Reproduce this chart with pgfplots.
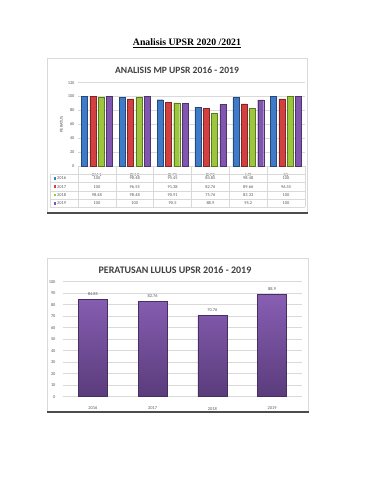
\documentclass[border=0pt]{standalone}
\usepackage{fontspec}
\setmainfont{Carlito}
\newfontfamily\seriffont{Liberation Serif}
\usepackage{pgfplots}
\usepackage{pgfplotstable}
\pgfplotsset{compat=1.18}
\definecolor{cA}{HTML}{3F7BC8}
\definecolor{cB}{HTML}{D2413F}
\definecolor{cC}{HTML}{9CC63B}
\definecolor{cD}{HTML}{8156B0}
\definecolor{gridc}{HTML}{D9D9D9}
\definecolor{txt}{HTML}{595959}
\definecolor{ttl}{HTML}{404040}

\pgfplotstableread{
x a b c d
0 100 100 98.48 100
1 98.48 96.55 98.48 100
2 95.45 91.38 90.91 90.5
3 84.85 82.76 75.76 88.9
4 98.48 89.66 83.33 95.2
5 100 96.55 100 100
}\mpdata

\pgfplotstableread{
x v
0 84.85
1 82.76
2 70.76
3 88.9
}\lulus

\begin{document}
\begin{tikzpicture}[x=1pt,y=1pt]
\fill[white] (0,0) rectangle (370,480);
\node[font=\seriffont\bfseries\fontsize{9.8}{11}\selectfont] at (187,437) {\underline{Analisis UPSR 2020 /2021}};

% ---------- chart 1 ----------
\draw[gridc, line width=0.5pt] (47,268) rectangle (307,422);
\draw[black!70, line width=1.3pt] (47,267) -- (308,267);
\node[font=\bfseries\fontsize{9.6}{11}\selectfont, text=ttl] at (177,410) {ANALISIS MP UPSR 2016 - 2019};

\begin{axis}[at={(78pt,314pt)}, anchor=south west, scale only axis,
  width=227pt, height=83.3pt,
  ymin=0, ymax=120, ytick={0,20,...,120},
  xmin=-0.5, xmax=5.5, xtick={0,...,5},
  xticklabels={BM 1,BM 2,BI P1,BI P2,MT,SN},
  axis line style={draw=none}, tick style={draw=none},
  ymajorgrids, grid style={gridc, line width=0.5pt},
  ybar=2.3pt, bar width=6pt,
  tick label style={font=\fontsize{4.4}{5}\selectfont, text=txt},
  xticklabel style={yshift=0.5pt},
  /pgf/number format/assume math mode=true,
  ylabel={PERATUS}, ylabel style={font=\fontsize{4.4}{5}\selectfont, text=txt, yshift=-2pt},
  clip=false]
\addplot[fill=cA, draw=cA!60!black, line width=0.3pt] table[x=x, y=a] {\mpdata};
\addplot[fill=cB, draw=cB!60!black, line width=0.3pt] table[x=x, y=b] {\mpdata};
\addplot[fill=cC, draw=cC!60!black, line width=0.3pt] table[x=x, y=c] {\mpdata};
\addplot[fill=cD, draw=cD!60!black, line width=0.3pt] table[x=x, y=d] {\mpdata};
\end{axis}

% data table
\foreach \yy in {306,297.5,289,281,273} \draw[gridc, line width=0.5pt] (50,\yy) -- (305,\yy);
\foreach \xx in {78,115.83,153.67,191.5,229.33,267.17,305} \draw[gridc, line width=0.5pt] (\xx,314) -- (\xx,273);
\draw[gridc, line width=0.5pt] (50,306) -- (50,273);
\foreach \c/\yy/\col/\yr in {a/301.7/cA/2016,b/293.3/cB/2017,c/285/cC/2018,d/276.7/cD/2019}{
  \fill[\col] (53.5,\yy-1.3) rectangle ++(2.6,2.6);
  \node[anchor=west, inner sep=0.5pt, font=\fontsize{4.4}{5}\selectfont, text=txt] at (56.5,\yy) {\yr};
  \foreach \r in {0,...,5}{
    \pgfplotstablegetelem{\r}{\c}\of\mpdata
    \node[font=\fontsize{4.4}{5}\selectfont, text=txt] at ({96.92+\r*37.83},\yy) {\pgfplotsretval};
  }
}

% ---------- chart 2 ----------
\draw[gridc, line width=0.5pt] (47,69) rectangle (308,222);
\draw[black!70, line width=1.3pt] (47,68) -- (309,68);
\node[font=\bfseries\fontsize{10}{11}\selectfont, text=ttl] at (175,210) {PERATUSAN LULUS UPSR 2016 - 2019};

\begin{axis}[at={(63pt,83.3pt)}, anchor=south west, scale only axis,
  width=239pt, height=115pt,
  ymin=0, ymax=100, ytick={0,10,...,100},
  xmin=-0.5, xmax=3.5, xtick={0,...,3},
  xticklabels={2016,2017,2018,2019},
  axis line style={draw=none}, tick style={draw=none},
  ymajorgrids, grid style={gridc, line width=0.5pt},
  ybar, bar width=29pt,
  tick label style={font=\fontsize{4.4}{5}\selectfont, text=txt},
  yticklabel style={xshift=-4pt},
  xticklabel style={yshift=-2.5pt},
  /pgf/number format/assume math mode=true,
  nodes near coords, nodes near coords style={font=\fontsize{4.4}{5}\selectfont, text=txt},
  clip=false]
\addplot[top color=cD!95!white, bottom color=cD!70!black, draw=cD!55!black, line width=0.4pt] table[x=x, y=v] {\lulus};
\end{axis}
\end{tikzpicture}
\end{document}
